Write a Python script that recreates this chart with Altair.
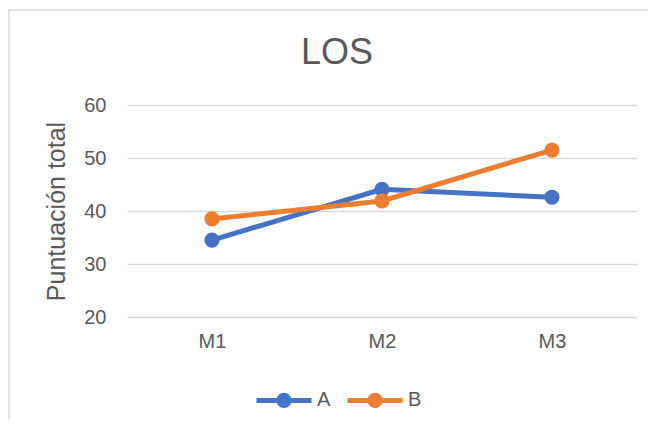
import altair as alt
import pandas as pd

categories = ["M1", "M2", "M3"]
series_a = [34.5, 44.1, 42.6]
series_b = [38.5, 41.9, 51.5]
series_names = ["A", "B"]
colors = ["#4472C4", "#ED7D31"]

rows = []
for name, vals in zip(series_names, [series_a, series_b]):
    for c, v in zip(categories, vals):
        rows.append({"mes": c, "valor": v, "serie": name})
df = pd.DataFrame(rows)

W, H = 510, 212
FONT = "Liberation Sans"
GREY = "#595959"

color = alt.Color(
    "serie:N",
    scale=alt.Scale(domain=series_names, range=colors),
    legend=alt.Legend(
        title=None,
        orient="none",
        legendX=127,
        legendY=265,
        direction="horizontal",
        symbolType="M-1,0L1,0M0.19,0A0.19,0.19,0,1,1,-0.19,0A0.19,0.19,0,1,1,0.19,0",
        symbolSize=3025,
        symbolStrokeWidth=5,
        labelFontSize=20,
        labelFont=FONT,
        labelColor=GREY,
        labelOffset=3,
        columnPadding=6,
    ),
)

x = alt.X(
    "mes:N",
    sort=categories,
    scale=alt.Scale(type="point", padding=0.5),
    axis=alt.Axis(
        title=None,
        labelAngle=0,
        labelFontSize=20,
        labelFont=FONT,
        labelColor=GREY,
        labelPadding=14,
        ticks=False,
        domain=False,
        grid=False,
    ),
)
y = alt.Y(
    "valor:Q",
    scale=alt.Scale(domain=[20, 60], nice=False, zero=False),
    axis=alt.Axis(
        title="Puntuación total",
        values=[20, 30, 40, 50, 60],
        labelFontSize=20,
        labelFont=FONT,
        labelColor=GREY,
        labelPadding=21,
        ticks=False,
        domain=False,
        gridColor="#D9D9D9",
        gridWidth=1.5,
        titleFontSize=25,
        titleFont=FONT,
        titleColor=GREY,
        titleFontWeight="normal",
        titleAngle=-90,
        titleX=-71,
        titleY=106,
        titleAlign="center",
        titleBaseline="middle",
    ),
)

frame = alt.Chart(pd.DataFrame({"k": [0]})).mark_rect(
    fill=None, stroke="#D9D9D9", strokeWidth=1.5
).encode(
    x=alt.value(-118), x2=alt.value(560), y=alt.value(-95), y2=alt.value(340)
)

points = alt.Chart(df).mark_point(filled=True, size=230, opacity=1).encode(
    x=x, y=y, color=color
)
lines = alt.Chart(df).mark_line(strokeWidth=5).encode(
    x=x, y=y, color=color, detail="serie:N"
)

chart = alt.layer(frame, points, lines).properties(
    width=W,
    height=H,
    padding={"left": 119, "top": 97, "right": 11, "bottom": 102},
    autosize=alt.AutoSizeParams(type="none"),
    title=alt.TitleParams(
        "LOS",
        fontSize=36,
        font=FONT,
        color=GREY,
        fontWeight="normal",
        anchor="middle",
        baseline="alphabetic",
        dx=-45,
        dy=91,
        offset=0,
    ),
).configure_view(stroke=None)

chart.save("out.html", embed_options={"renderer": "svg", "actions": False})
